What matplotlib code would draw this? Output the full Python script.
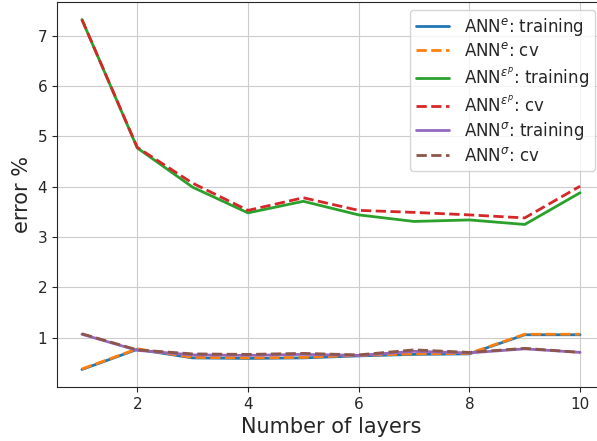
import matplotlib
matplotlib.use('Agg')
import matplotlib.pyplot as plt
import seaborn as sns

# число слоёв
layers = [1, 2, 3, 4, 5, 6, 7, 8, 9, 10]

# ошибки, %
e_train = [0.37, 0.77, 0.60, 0.59, 0.60, 0.64, 0.67, 0.68, 1.06, 1.06]
e_cv = [0.38, 0.78, 0.61, 0.60, 0.61, 0.65, 0.68, 0.69, 1.07, 1.07]
ep_train = [7.32, 4.77, 3.99, 3.48, 3.71, 3.44, 3.31, 3.34, 3.25, 3.88]
ep_cv = [7.32, 4.78, 4.07, 3.53, 3.78, 3.53, 3.49, 3.44, 3.38, 4.01]
s_train = [1.07, 0.75, 0.66, 0.65, 0.67, 0.65, 0.73, 0.70, 0.78, 0.71]
s_cv = [1.08, 0.76, 0.68, 0.67, 0.69, 0.66, 0.76, 0.71, 0.79, 0.71]

sns.set_style('ticks')
plt.rcParams['font.family'] = ['DejaVu Sans']

fig = plt.figure(figsize=(5.97, 4.41), dpi=100)
ax = fig.add_axes([57 / 597, 54 / 441, 548 / 597, 385 / 441])

ax.plot(layers, e_train, '-', color='tab:blue', lw=2, label=r'ANN$^e$: training')
ax.plot(layers, e_cv, '--', color='tab:orange', lw=2, label=r'ANN$^e$: cv')
ax.plot(layers, ep_train, '-', color='tab:green', lw=2,
        label=r'ANN$^{\varepsilon^p}$: training')
ax.plot(layers, ep_cv, '--', color='tab:red', lw=2, label=r'ANN$^{\varepsilon^p}$: cv')
ax.plot(layers, s_train, '-', color='tab:purple', lw=2, label=r'ANN$^{\sigma}$: training')
ax.plot(layers, s_cv, '--', color='tab:brown', lw=2, label=r'ANN$^{\sigma}$: cv')

ax.grid(True, color='.8')
ax.set_xticks([2, 4, 6, 8, 10])
ax.tick_params(labelsize=11)
ax.set_xlabel('Number of layers', fontsize=15)
ax.set_ylabel('error %', fontsize=15)
ax.legend(loc='upper right', fontsize=12, bbox_to_anchor=(0.982, 0.98),
          borderaxespad=0.0, labelspacing=0.28, handletextpad=0.9,
          borderpad=0.35)

fig.savefig('out.png', dpi=100)
